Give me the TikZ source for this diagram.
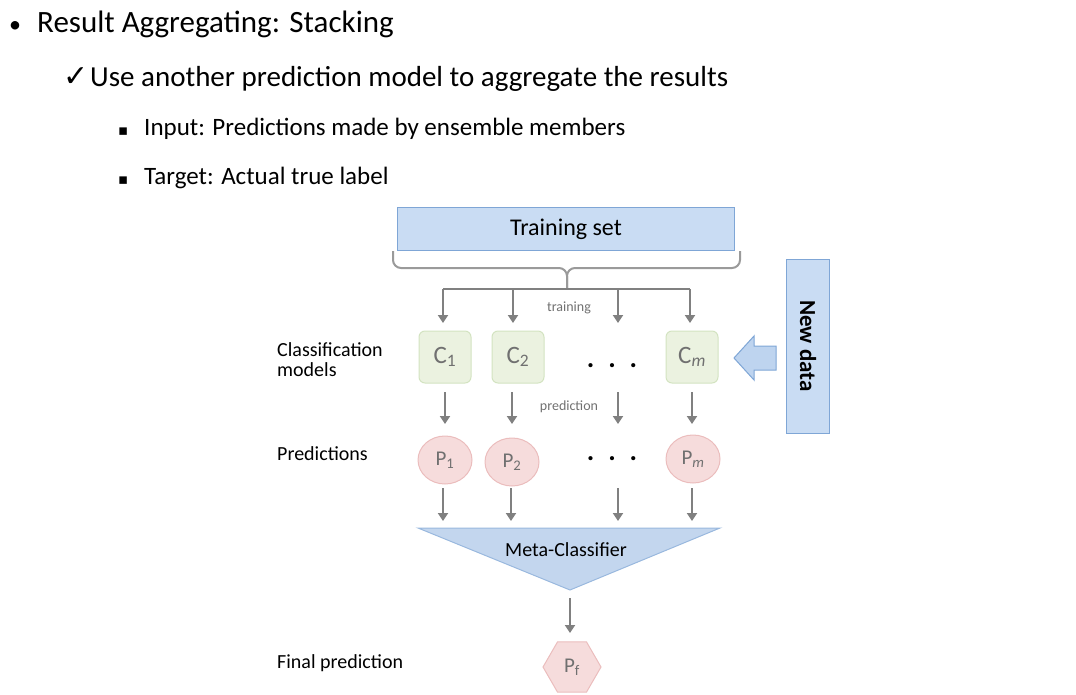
\documentclass[tikz,border=0pt]{standalone}
\usepackage{fontspec}
\setmainfont{Carlito}
\newfontfamily\symfont{DejaVu Sans}
\usetikzlibrary{arrows.meta,shapes.geometric,positioning}

\definecolor{boxblue}{HTML}{C9DCF3}
\definecolor{lineblue}{HTML}{7FA6D6}
\definecolor{metablue}{HTML}{C3D6EE}
\definecolor{clsgreen}{HTML}{EBF2E0}
\definecolor{clsline}{HTML}{D3E3C1}
\definecolor{predpink}{HTML}{F6DCDC}
\definecolor{predline}{HTML}{EBBDBD}
\definecolor{flowgray}{HTML}{808080}
\definecolor{bracegray}{HTML}{9A9A9A}
\definecolor{labelgray}{HTML}{707070}

\newcommand{\fsz}[1]{\fontsize{#1}{#1}\selectfont}

\begin{document}
\begin{tikzpicture}[x=1pt, y=-1pt,
    flow/.style={draw=flowgray, line width=2.2pt, -{Triangle[width=10pt,length=8pt]}},
    bluebox/.style={draw=lineblue, fill=boxblue, line width=1pt, inner sep=0pt},
    classbox/.style={draw=clsline, fill=clsgreen, line width=1pt, rounded corners=6pt,
        minimum width=52pt, minimum height=52pt, text=labelgray, font=\fsz{25}},
    predball/.style={draw=predline, fill=predpink, line width=1pt, ellipse,
        minimum width=54pt, minimum height=48pt, inner sep=0pt, text=labelgray, font=\fsz{21}},
    rowlabel/.style={anchor=west, align=left, inner sep=0pt, font=\fsz{20}},
    smalllabel/.style={text=labelgray, inner sep=0pt, font=\fsz{14}},
    dots/.style={inner sep=0pt, font=\fsz{28}\bfseries}]
  \useasboundingbox (0,0) rectangle (1076,695);

  % Bullet text
  \node[anchor=base west, inner sep=0pt, font=\fsz{24}] (b1) at (9,33) {•};
  \node[anchor=base west, inner sep=0pt, font=\fsz{31}] (t1) at (37,33) {Result Aggregating: Stacking};
  \node[anchor=base west, inner sep=0pt, font=\symfont\fsz{30}] (b2) at (63,87) {✓};
  \node[anchor=base west, inner sep=0pt, font=\fsz{29}] (t2) at (90,87) {Use another prediction model to aggregate the results};
  \node[anchor=base west, inner sep=0pt, font=\symfont\fsz{15}] (b3) at (118,136) {▪};
  \node[anchor=base west, inner sep=0pt, font=\fsz{25}] (t3) at (144,136) {Input: Predictions made by ensemble members};
  \node[anchor=base west, inner sep=0pt, font=\symfont\fsz{15}] (b4) at (118,185) {▪};
  \node[anchor=base west, inner sep=0pt, font=\fsz{25}] (t4) at (144,185) {Target: Actual true label};

  % Training set and brace
  \node[bluebox, minimum width=337pt, minimum height=42pt, font=\fsz{24}] (train) at (566,229) {Training set};
  \draw[bracegray, line width=2pt, rounded corners=8pt] (393,251) -- (393,268) -- (567,268) -- (567,289);
  \draw[bracegray, line width=2pt, rounded corners=8pt] (740,251) -- (740,268) -- (567,268) -- (567,289);
  \draw[flowgray, line width=2.2pt] (443,289) -- (690,289);

  % Classification models
  \node[classbox] (c1) at (445,357) {C\textsubscript{1}};
  \node[classbox] (c2) at (518,357) {C\textsubscript{2}};
  \node[dots] (cdots) at (612,366) {.\,\,\,.\,\,\,.};
  \node[classbox] (cm) at (692,357) {C\textsubscript{\itshape m}};

  % Predictions
  \node[predball] (p1) at (445,460) {P\textsubscript{1}};
  \node[predball] (p2) at (512,462) {P\textsubscript{2}};
  \node[dots] (pdots) at (612,459) {.\,\,\,.\,\,\,.};
  \node[predball] (pm) at (693,459) {P\textsubscript{\itshape m}};

  % Column ends for the arrows
  \foreach \n/\x/\y in {1/443/445, 2/513/512, 3/618/618, 4/690/692} {
    \coordinate (hub\n) at (\x,289);
    \coordinate (tin\n) at (\x,323);
    \coordinate (cout\n) at (\y,392);
    \coordinate (pin\n) at (\y,424);
  }
  \foreach \n/\x in {1/443, 2/511, 3/618, 4/692} {
    \coordinate (pout\n) at (\x,488);
    \coordinate (min\n) at (\x,521);
  }
  \foreach \n in {1,...,4} {
    \draw[flow] (hub\n) -- (tin\n);
    \draw[flow] (cout\n) -- (pin\n);
    \draw[flow] (pout\n) -- (min\n);
  }
  \node[smalllabel] (trainlbl) at (569,308) {training};
  \node[smalllabel] (predlbl) at (569,407) {prediction};

  % Meta-classifier
  \coordinate (mleft) at (418,528);
  \coordinate (mright) at (720,528);
  \coordinate (mtip) at (570,590);
  \filldraw[draw=lineblue!80, fill=metablue, line width=1pt] (mleft) -- (mright) -- (mtip) -- cycle;
  \node[inner sep=0pt, font=\fsz{20}] (meta) at (566,550) {Meta-Classifier};

  % Final prediction
  \node[regular polygon, regular polygon sides=6, draw=predline, fill=predpink, line width=1pt,
        minimum size=58pt, inner sep=0pt, text=labelgray, font=\fsz{21}] (pf) at (572,667) {P\textsubscript{f}};
  \coordinate (mout) at (570,598);
  \coordinate (pfin) at (570,633);
  \draw[flow] (mout) -- (pfin);

  % New data
  \node[bluebox, rotate=-90, minimum width=174pt, minimum height=43pt, font=\fsz{23}\bfseries] (new) at (808,346) {New data};
  \filldraw[draw=lineblue, fill=boxblue!85!lineblue, line width=1pt]
    (734,358) -- (754,336) -- (754,346) -- (776,346) -- (776,370) -- (754,370) -- (754,380) -- cycle;

  % Row labels
  \node[rowlabel] (lclass) at (277,360) {Classification\\models};
  \node[rowlabel] (lpred) at (277,454) {Predictions};
  \node[rowlabel] (lfinal) at (277,663) {Final prediction};
\end{tikzpicture}
\end{document}
